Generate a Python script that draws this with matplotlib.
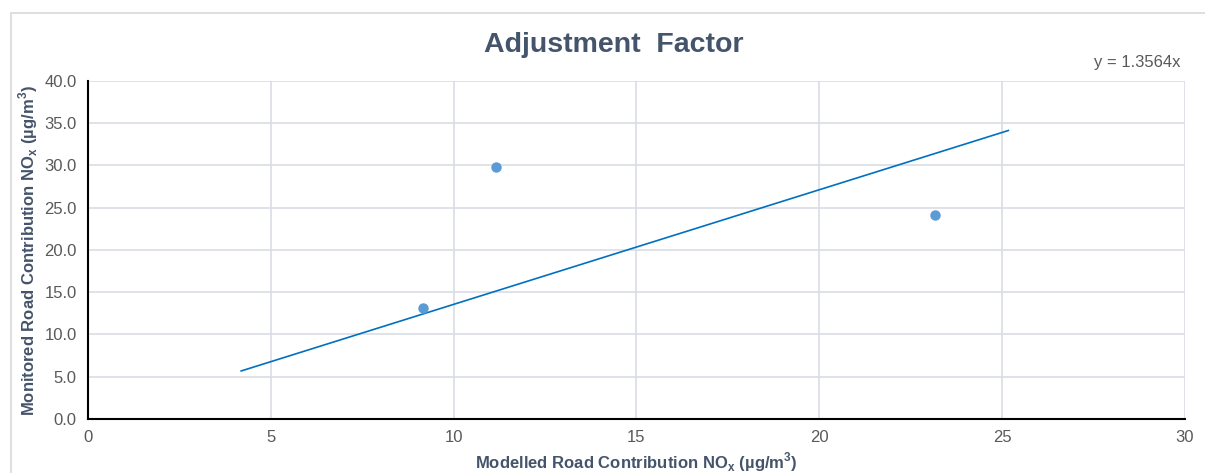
import matplotlib.pyplot as plt
from matplotlib.patches import Rectangle

plt.rcParams['font.family'] = ['Liberation Sans', 'DejaVu Sans']

# measured points (modelled vs monitored road NOx)
modelled = [9.17, 11.16, 23.15]
monitored = [13.1, 29.8, 24.1]

# trendline through origin, drawn over the span shown in the chart
slope = 1.3564
trend_x = [4.19, 25.17]

x_ticks = [0, 5, 10, 15, 20, 25, 30]
y_ticks = [0, 5, 10, 15, 20, 25, 30, 35, 40]

txtcol = '#44546A'
tickcol = '#595959'
gridcol = '#D9DDE4'

fig = plt.figure(figsize=(12.05, 4.73), dpi=100)
ax = fig.add_axes([0.0730, 0.1142, 0.9104, 0.7146])

# chart area border
fig.patches.append(Rectangle((11 / 1205, -0.05), 1.1, 1 - 13 / 473 + 0.05,
                             transform=fig.transFigure, fill=False,
                             edgecolor='#D9D9D9', linewidth=1.2))

ax.plot(trend_x, [slope * v for v in trend_x], color='#0070C0', lw=1.2, zorder=3)
ax.plot(modelled, monitored, 'o', color='#5B9BD5', ms=6.5, zorder=4)

ax.set_xlim(0, 30)
ax.set_ylim(0, 40)
ax.set_xticks(x_ticks)
ax.set_yticks(y_ticks)
ax.set_yticklabels(['%.1f' % v for v in y_ticks])
ax.grid(True, color=gridcol, lw=1.2)
ax.set_axisbelow(True)

for s in ['top', 'right']:
    ax.spines[s].set_visible(False)
for s in ['left', 'bottom']:
    ax.spines[s].set_color('black')
    ax.spines[s].set_linewidth(1.5)
ax.tick_params(length=0, labelsize=12, labelcolor=tickcol, pad=8)

fig.text(614 / 1205, 1 - 45 / 473, 'Adjustment  Factor', ha='center', va='center',
         fontsize=20.5, fontweight='bold', color=txtcol)
fig.text(636 / 1205, 1 - 462 / 473,
         'Modelled Road Contribution NO$_\\mathregular{x}$ (\u00b5g/m$^\\mathregular{3}$)',
         ha='center', va='center', fontsize=12, fontweight='bold', color=txtcol)
fig.text(28 / 1205, 1 - 251 / 473,
         'Monitored Road Contribution NO$_\\mathregular{x}$ (\u00b5g/m$^\\mathregular{3}$)',
         ha='center', va='center', rotation=90, fontsize=12, fontweight='bold', color=txtcol)
fig.text(1180 / 1205, 1 - 63 / 473, 'y = 1.3564x', ha='right', va='center',
         fontsize=12, color=tickcol)

plt.savefig('out.png', dpi=100)
